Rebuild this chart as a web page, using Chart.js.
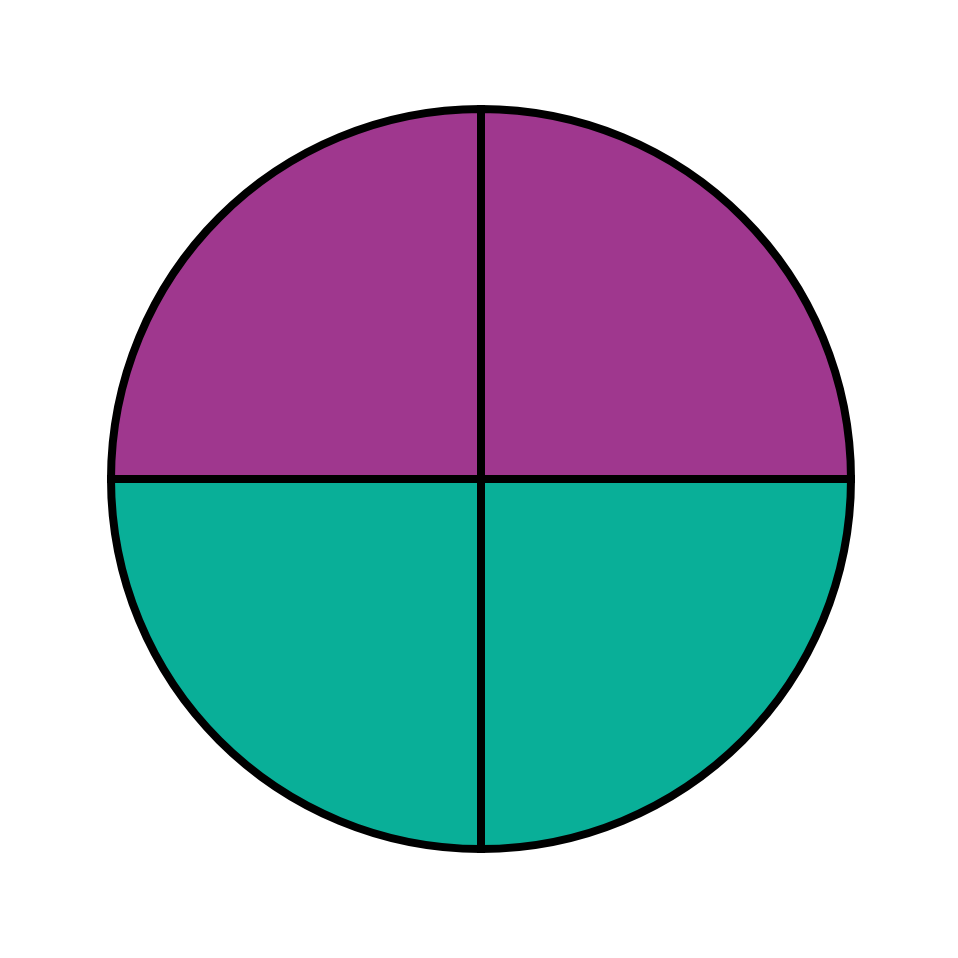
<!DOCTYPE html>
<html>
<head>
<meta charset="utf-8">
<script src="https://cdn.jsdelivr.net/npm/chart.js@4"></script>
<style>
  html, body { margin: 0; padding: 0; background: #ffffff; }
  #wrap { width: 958px; height: 958px; }
</style>
</head>
<body>
<div id="wrap"><canvas id="pieChart"></canvas></div>
<script>
// Cuatro cuartos iguales, empezando arriba y en sentido horario
const labels = ['A', 'B', 'C', 'D'];
const values = [1, 1, 1, 1];
const sliceColors = ['#9F378E', '#09AF98', '#09AF98', '#9F378E'];

const ctx = document.getElementById('pieChart').getContext('2d');
new Chart(ctx, {
  type: 'pie',
  data: {
    labels: labels,
    datasets: [{
      data: values,
      backgroundColor: sliceColors,
      borderColor: '#000000',
      borderWidth: 8,
      borderJoinStyle: 'miter'
    }]
  },
  options: {
    responsive: true,
    maintainAspectRatio: false,
    animation: false,
    layout: { padding: { left: 107, right: 103, top: 103, bottom: 103 } },
    plugins: {
      legend: { display: false },
      tooltip: { enabled: false }
    }
  }
});
</script>
</body>
</html>
